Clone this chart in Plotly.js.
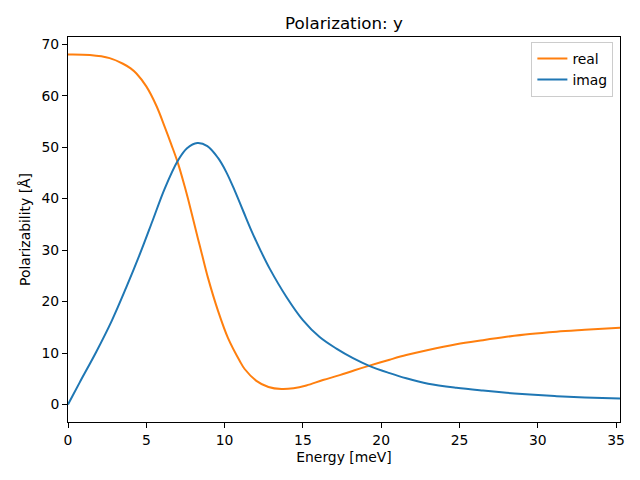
<!DOCTYPE html>
<html>
<head>
<meta charset="utf-8">
<script src="https://cdn.plot.ly/plotly-3.0.1.min.js"></script>
<style>html,body{margin:0;padding:0;background:#fff;}#chart{width:640px;height:480px;}</style>
</head>
<body>
<div id="chart"></div>
<script>
// Real part (orange)
const realEnergy = [0, 1.4, 2.66, 3.51, 4.0, 4.37, 5.0, 5.65, 6.17, 6.6, 7.02, 7.45, 7.66, 8.3, 8.52, 8.94, 9.58, 10.22, 10.96, 11.28, 12.03, 12.8, 13.63, 14.4, 15.22, 16.28, 17.35, 18.3, 19.2, 20.54, 21.6, 23.0, 24.8, 26.5, 28.0, 29.5, 31.2, 33.0, 35.25];
const realValues = [68.0, 67.9, 67.3, 66.2, 65.3, 64.3, 61.8, 58.0, 54.0, 50.5, 46.9, 42.4, 40.0, 32.2, 29.6, 24.6, 18.2, 12.9, 8.5, 6.9, 4.6, 3.4, 3.0, 3.15, 3.7, 4.75, 5.7, 6.65, 7.5, 8.7, 9.6, 10.6, 11.7, 12.5, 13.15, 13.7, 14.15, 14.5, 14.9];
// Imaginary part (blue)
const imagEnergy = [0, 0.75, 1.8, 2.8, 3.7, 4.6, 5.4, 6.17, 7.02, 7.6, 8.26, 8.9, 9.58, 10.1, 10.64, 11.2, 11.71, 12.3, 12.88, 13.95, 15.0, 16.07, 17.14, 18.2, 19.27, 20.54, 21.6, 23.0, 24.8, 26.5, 28.0, 29.5, 31.2, 33.0, 35.25];
const imagValues = [0, 4.3, 10.2, 16.3, 22.6, 29.3, 35.7, 41.9, 47.4, 49.8, 50.8, 50.2, 47.9, 45.2, 41.6, 37.5, 33.8, 29.9, 26.4, 20.9, 16.4, 13.1, 10.85, 9.0, 7.46, 6.1, 5.1, 4.05, 3.25, 2.7, 2.28, 1.93, 1.62, 1.38, 1.17];
const xTicks = [0, 5, 10, 15, 20, 25, 30, 35];
const yTicks = [0, 10, 20, 30, 40, 50, 60, 70];

const font = 'DejaVu Sans, sans-serif';
const traces = [
  {x: realEnergy, y: realValues, name: 'real', mode: 'lines', line: {color: '#ff7f0e', width: 2, shape: 'spline', smoothing: 1}},
  {x: imagEnergy, y: imagValues, name: 'imag', mode: 'lines', line: {color: '#1f77b4', width: 2, shape: 'spline', smoothing: 1}}
];
const axisCommon = {
  showgrid: false, zeroline: false, showline: true, mirror: true,
  linecolor: '#000', linewidth: 1, ticks: 'outside', ticklen: 5, tickwidth: 1, tickcolor: '#000',
  tickfont: {family: font, size: 13.9, color: '#000'}
};
const layout = {
  width: 640, height: 480,
  paper_bgcolor: '#fff', plot_bgcolor: '#fff',
  margin: {l: 68, r: 20, t: 37, b: 58},
  font: {family: font, color: '#000'},
  title: {text: 'Polarization: y', font: {family: font, size: 16.7, color: '#000'}, x: 0.5, xanchor: 'center', xref: 'paper', y: 0.952, yanchor: 'middle'},
  xaxis: Object.assign({}, axisCommon, {range: [0, 35.25], tickvals: xTicks, ticktext: xTicks.map(String),
    title: {text: 'Energy [meV]', font: {family: font, size: 13.9, color: '#000'}, standoff: 5}}),
  yaxis: Object.assign({}, axisCommon, {range: [-3.4, 71.4], tickvals: yTicks, ticktext: yTicks.map(String),
    title: {text: 'Polarizability [Å]', font: {family: font, size: 13.9, color: '#000'}, standoff: 7}}),
  legend: {x: 0.988, y: 0.987, xanchor: 'right', yanchor: 'top', bgcolor: 'rgba(255,255,255,0.8)', bordercolor: '#cccccc', borderwidth: 1,
    font: {family: font, size: 13.9, color: '#000'}, tracegroupgap: 0},
  showlegend: true
};
Plotly.newPlot('chart', traces, layout, {staticPlot: true, displayModeBar: false});
</script>
</body>
</html>
